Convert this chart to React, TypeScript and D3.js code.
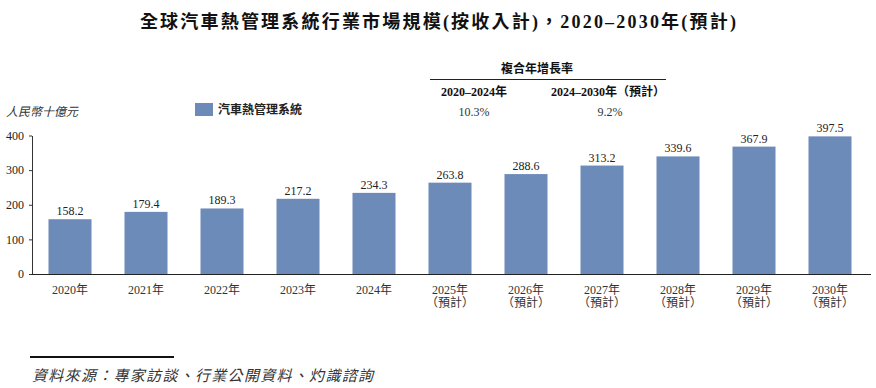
import { useRef, useEffect } from 'react';
import * as d3 from 'd3';

const years = ['2020', '2021', '2022', '2023', '2024', '2025', '2026', '2027', '2028', '2029', '2030'];
const forecast = [false, false, false, false, false, true, true, true, true, true, true];
const values = [158.2, 179.4, 189.3, 217.2, 234.3, 263.8, 288.6, 313.2, 339.6, 367.9, 397.5];
const yTicks = [0, 100, 200, 300, 400];
const cagrPeriods = ['2020–2024年', '2024–2030年（預計）'];
const cagrValues = ['10.3%', '9.2%'];

const SERIF = '"Liberation Serif", "Noto Sans CJK TC", serif';
const CJK = '"Liberation Serif", "Noto Sans CJK TC", sans-serif';

export default function App() {
  const ref = useRef<SVGSVGElement>(null);

  useEffect(() => {
    const svg = d3.select(ref.current);
    svg.selectAll('*').remove();

    const width = 876;
    const x = d3.scaleBand().domain(years).range([32, 868]).paddingInner(0.434).paddingOuter(0.217);
    const y = d3.scaleLinear().domain([0, 400]).range([274, 135.5]);

    // title
    svg.append('text')
      .attr('x', width / 2 + 1).attr('y', 28)
      .attr('text-anchor', 'middle')
      .attr('font-family', CJK).attr('font-weight', 'bold').attr('font-size', 18)
      .attr('letter-spacing', 2.2)
      .attr('fill', '#111')
      .text('全球汽車熱管理系統行業市場規模(按收入計)，2020–2030年(預計)');

    // CAGR table
    svg.append('text')
      .attr('x', 537).attr('y', 73).attr('text-anchor', 'middle')
      .attr('font-family', CJK).attr('font-weight', 'bold').attr('font-size', 12)
      .attr('fill', '#111').text('複合年增長率');
    svg.append('line')
      .attr('x1', 430).attr('x2', 666).attr('y1', 79.5).attr('y2', 79.5)
      .attr('stroke', '#222').attr('stroke-width', 1);
    const headX = [474, 608];
    const valX = [474, 610];
    cagrPeriods.forEach((p, i) => {
      svg.append('text')
        .attr('x', headX[i]).attr('y', 96).attr('text-anchor', 'middle')
        .attr('font-family', SERIF).attr('font-weight', 'bold').attr('font-size', 12)
        .attr('fill', '#111').text(p);
      svg.append('text')
        .attr('x', valX[i]).attr('y', 116).attr('text-anchor', 'middle')
        .attr('font-family', SERIF).attr('font-size', 12)
        .attr('fill', '#333').text(cagrValues[i]);
    });

    // unit + legend
    svg.append('text')
      .attr('x', 6).attr('y', 116)
      .attr('font-family', CJK).attr('font-style', 'italic').attr('font-size', 12)
      .attr('fill', '#333').text('人民幣十億元');
    svg.append('rect')
      .attr('x', 195).attr('y', 103).attr('width', 18).attr('height', 13)
      .attr('fill', '#6d8bb9');
    svg.append('text')
      .attr('x', 218).attr('y', 114)
      .attr('font-family', CJK).attr('font-weight', 'bold').attr('font-size', 12)
      .attr('fill', '#222').text('汽車熱管理系統');

    // bars
    svg.append('g')
      .selectAll('rect')
      .data(values)
      .join('rect')
      .attr('x', (_, i) => x(years[i])!)
      .attr('width', x.bandwidth())
      .attr('y', (d) => y(d))
      .attr('height', (d) => y(0) - y(d))
      .attr('fill', '#6d8bb9');

    svg.append('g')
      .selectAll('text')
      .data(values)
      .join('text')
      .attr('x', (_, i) => x(years[i])! + x.bandwidth() / 2)
      .attr('y', (d) => y(d) - 4)
      .attr('text-anchor', 'middle')
      .attr('font-family', SERIF).attr('font-size', 12)
      .attr('fill', '#222')
      .text((d) => d.toFixed(1));

    // y axis
    const yAxis = svg.append('g')
      .attr('transform', 'translate(32,0)')
      .call(d3.axisLeft(y).tickValues(yTicks).tickSize(3).tickSizeOuter(0));
    yAxis.select('.domain').attr('stroke', '#333');
    yAxis.selectAll('line').attr('stroke', '#333');
    yAxis.selectAll('text')
      .attr('font-family', SERIF).attr('font-size', 12).attr('fill', '#222')
      .attr('dx', -2);

    // x axis baseline
    svg.append('line')
      .attr('x1', 32).attr('x2', 871).attr('y1', y(0) + 0.5).attr('y2', y(0) + 0.5)
      .attr('stroke', '#222').attr('stroke-width', 1.2);

    // x labels
    const xl = svg.append('g');
    years.forEach((yr, i) => {
      const cx = x(yr)! + x.bandwidth() / 2;
      xl.append('text')
        .attr('x', cx).attr('y', 294).attr('text-anchor', 'middle')
        .attr('font-family', SERIF).attr('font-size', 12).attr('fill', '#333')
        .text(yr + '年');
      if (forecast[i]) {
        xl.append('text')
          .attr('x', cx).attr('y', 307).attr('text-anchor', 'middle')
          .attr('font-family', SERIF).attr('font-size', 12).attr('fill', '#333')
          .text('（預計）');
      }
    });

    // footnote
    svg.append('line')
      .attr('x1', 30).attr('x2', 174).attr('y1', 357).attr('y2', 357)
      .attr('stroke', '#111').attr('stroke-width', 2);
    svg.append('text')
      .attr('x', 32).attr('y', 381)
      .attr('font-family', CJK).attr('font-style', 'italic').attr('font-size', 15)
      .attr('letter-spacing', 1.3)
      .attr('fill', '#333').text('資料來源：專家訪談、行業公開資料、灼識諮詢');
  }, []);

  return (
    <svg
      ref={ref}
      width={876}
      height={388}
      style={{ position: 'absolute', left: 0, top: 0, background: '#fff' }}
    />
  );
}
